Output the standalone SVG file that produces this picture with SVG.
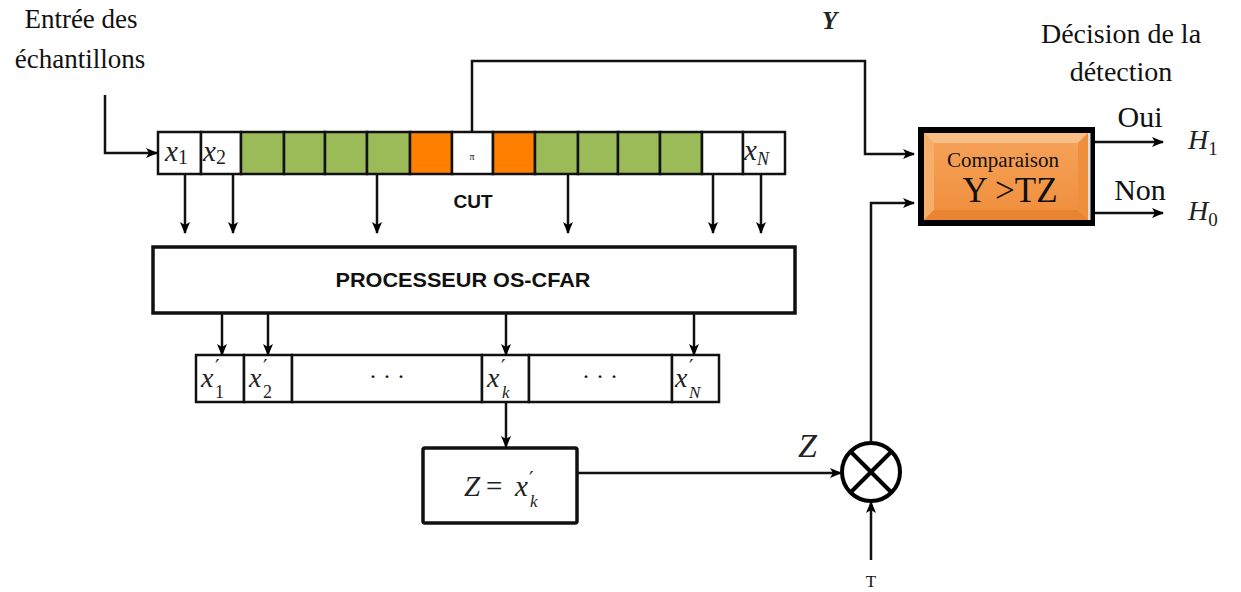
<svg xmlns="http://www.w3.org/2000/svg" width="1241" height="592" viewBox="0 0 1241 592">
<defs>
<marker id="ah" markerWidth="12" markerHeight="10" refX="11" refY="5" orient="auto" markerUnits="userSpaceOnUse">
<path d="M0,0 L12,5 L0,10 L3,5 Z" fill="#000"/>
</marker>
<style>
.ln{fill:none;stroke:#111;stroke-width:2.5}
.cell{stroke:#111;stroke-width:2.5}
.w{fill:#fff}.g{fill:#9BBB59}.o{fill:#FF8000}
.box{fill:#fff;stroke:#111;stroke-width:3.5}
.serif{font-family:"Liberation Serif","DejaVu Serif",serif;fill:#111}
.math{font-family:"Liberation Serif","DejaVu Serif",serif;font-style:italic;fill:#222}
.up{font-style:normal}
.pr{font-style:normal;font-size:20px;font-family:"DejaVu Serif",serif}
.sans{font-family:"Liberation Sans","DejaVu Sans",sans-serif;font-weight:bold;fill:#111}
</style>
<linearGradient id="og" x1="0" y1="0" x2="0" y2="1">
<stop offset="0" stop-color="#F5A35A"/>
<stop offset="1" stop-color="#F08E3C"/>
</linearGradient>
</defs>
<rect width="1241" height="592" fill="#fff"/>

<g id="labels">
<text class="serif" x="81" y="28" font-size="27" text-anchor="middle">Entrée des</text>
<text class="serif" x="80" y="68" font-size="27" text-anchor="middle">échantillons</text>
<text class="serif" x="1121" y="43" font-size="28" text-anchor="middle">Décision de la</text>
<text class="serif" x="1121" y="81" font-size="28" text-anchor="middle">détection</text>
<text class="math" x="822" y="29" font-size="25" font-weight="bold" fill="#1c2340">Y</text>
<text class="math" x="798" y="457" font-size="34">Z</text>
<text class="serif" x="871" y="587" font-size="17" text-anchor="middle">T</text>
<text class="serif" x="1140" y="127" font-size="30" text-anchor="middle" fill="#333">Oui</text>
<text class="serif" x="1140" y="200" font-size="30" text-anchor="middle" fill="#333">Non</text>
<text class="math" x="1188" y="149" font-size="28">H<tspan class="up" font-size="19" dy="6">1</tspan></text>
<text class="math" x="1188" y="220" font-size="28">H<tspan class="up" font-size="19" dy="6">0</tspan></text>
</g>

<g id="cells">
<rect class="cell w" x="158" y="132" width="43" height="42"/>
<rect class="cell w" x="201" y="132" width="40" height="42"/>
<rect class="cell g" x="241" y="132" width="43" height="42"/>
<rect class="cell g" x="284" y="132" width="41" height="42"/>
<rect class="cell g" x="325" y="132" width="42" height="42"/>
<rect class="cell g" x="367" y="132" width="43" height="42"/>
<rect class="cell o" x="410" y="132" width="42" height="42"/>
<rect class="cell w" x="452" y="132" width="41" height="42"/>
<rect class="cell o" x="493" y="132" width="42" height="42"/>
<rect class="cell g" x="535" y="132" width="43" height="42"/>
<rect class="cell g" x="578" y="132" width="40" height="42"/>
<rect class="cell g" x="618" y="132" width="42" height="42"/>
<rect class="cell g" x="660" y="132" width="42" height="42"/>
<rect class="cell w" x="702" y="132" width="41" height="42"/>
<rect class="cell w" x="743" y="132" width="42" height="42"/>
<text class="math" x="165" y="161" font-size="29">x<tspan class="up" font-size="20" dy="3">1</tspan></text>
<text class="math" x="203" y="161" font-size="29">x<tspan class="up" font-size="20" dy="3">2</tspan></text>
<text class="serif" x="472" y="160" font-size="10" text-anchor="middle" fill="#777">π</text>
<text class="math" x="744" y="160" font-size="29">x<tspan font-size="18" dy="5">N</tspan></text>
<text class="sans" x="473" y="208" font-size="19" text-anchor="middle">CUT</text>
</g>

<g id="processor">
<rect class="box" x="153" y="247" width="642" height="66"/>
<text class="sans" x="463" y="287" font-size="20" text-anchor="middle" textLength="255" lengthAdjust="spacingAndGlyphs">PROCESSEUR OS-CFAR</text>
</g>

<g id="sorted">
<rect class="cell w" x="196" y="355" width="48" height="47"/>
<rect class="cell w" x="244" y="355" width="48" height="47"/>
<rect class="cell w" x="292" y="355" width="190" height="47"/>
<rect class="cell w" x="482" y="355" width="47" height="47"/>
<rect class="cell w" x="529" y="355" width="143" height="47"/>
<rect class="cell w" x="672" y="355" width="47" height="47"/>
<text class="math" font-size="28"><tspan x="201" y="387">x</tspan><tspan class="pr" x="215" y="374">′</tspan><tspan class="up" font-size="18" x="215" y="398">1</tspan></text>
<text class="math" font-size="28"><tspan x="249" y="387">x</tspan><tspan class="pr" x="263" y="374">′</tspan><tspan class="up" font-size="18" x="263" y="398">2</tspan></text>
<text class="serif" x="387" y="384" font-size="24" text-anchor="middle">· · ·</text>
<text class="math" font-size="28"><tspan x="487" y="387">x</tspan><tspan class="pr" x="501" y="374">′</tspan><tspan font-size="17" x="502" y="398">k</tspan></text>
<text class="serif" x="600" y="384" font-size="24" text-anchor="middle">· · ·</text>
<text class="math" font-size="28"><tspan x="675" y="387">x</tspan><tspan class="pr" x="689" y="374">′</tspan><tspan font-size="17" x="689" y="398">N</tspan></text>
</g>

<g id="zbox">
<rect class="box" x="423" y="448" width="154" height="75" rx="2" stroke-width="4"/>
<text class="math" font-size="29"><tspan x="464" y="496">Z</tspan><tspan class="up" x="486" y="496">=</tspan><tspan x="515" y="496">x</tspan><tspan class="pr" font-size="18" x="529" y="486">′</tspan><tspan font-size="17" x="530" y="507">k</tspan></text>
</g>

<g id="multiplier">
<circle cx="871" cy="472" r="29" fill="#fff" stroke="#000" stroke-width="4"/>
<line x1="850.5" y1="451.5" x2="891.5" y2="492.5" stroke="#000" stroke-width="4"/>
<line x1="891.5" y1="451.5" x2="850.5" y2="492.5" stroke="#000" stroke-width="4"/>
</g>

<g id="comparator">
<rect x="918" y="127" width="177" height="99" fill="#000"/>
<rect x="924" y="133" width="164" height="87" fill="url(#og)"/>
<polygon points="924,133 1088,133 1078,143 934,143" fill="#F9BE85"/>
<polygon points="924,133 934,143 934,210 924,220" fill="#F7AE6A"/>
<polygon points="924,220 934,210 1078,210 1088,220" fill="#E98532"/>
<polygon points="1088,133 1088,220 1078,210 1078,143" fill="#EE8F3E"/>
<rect x="1088" y="133" width="2.5" height="87" fill="#ddd"/>
<text class="serif" x="1003" y="167" font-size="21" text-anchor="middle">Comparaison</text>
<text class="serif" x="1010" y="202" font-size="35" text-anchor="middle">Y &gt;TZ</text>
</g>

<g id="connectors">
<polyline class="ln" points="105,95 105,153 157,153" marker-end="url(#ah)"/>
<polyline class="ln" points="472,131 472,61 865,61 865,154 914,154" marker-end="url(#ah)"/>
<line class="ln" x1="185" y1="174" x2="185" y2="233" marker-end="url(#ah)"/>
<line class="ln" x1="233" y1="174" x2="233" y2="233" marker-end="url(#ah)"/>
<line class="ln" x1="377" y1="174" x2="377" y2="233" marker-end="url(#ah)"/>
<line class="ln" x1="568" y1="174" x2="568" y2="233" marker-end="url(#ah)"/>
<line class="ln" x1="713" y1="174" x2="713" y2="233" marker-end="url(#ah)"/>
<line class="ln" x1="761" y1="174" x2="761" y2="233" marker-end="url(#ah)"/>
<line class="ln" x1="222" y1="313" x2="222" y2="355" marker-end="url(#ah)"/>
<line class="ln" x1="268" y1="313" x2="268" y2="355" marker-end="url(#ah)"/>
<line class="ln" x1="506" y1="313" x2="506" y2="355" marker-end="url(#ah)"/>
<line class="ln" x1="694" y1="313" x2="694" y2="355" marker-end="url(#ah)"/>
<line class="ln" x1="506" y1="402" x2="506" y2="447" marker-end="url(#ah)"/>
<line class="ln" x1="577" y1="473" x2="841" y2="473" stroke-width="3.5" marker-end="url(#ah)"/>
<polyline class="ln" points="871,443 871,203 914,203" marker-end="url(#ah)"/>
<line class="ln" x1="871" y1="560" x2="871" y2="502" marker-end="url(#ah)"/>
<line class="ln" x1="1095" y1="142" x2="1163" y2="142" marker-end="url(#ah)"/>
<line class="ln" x1="1095" y1="213" x2="1163" y2="213" marker-end="url(#ah)"/>
</g>
</svg>
